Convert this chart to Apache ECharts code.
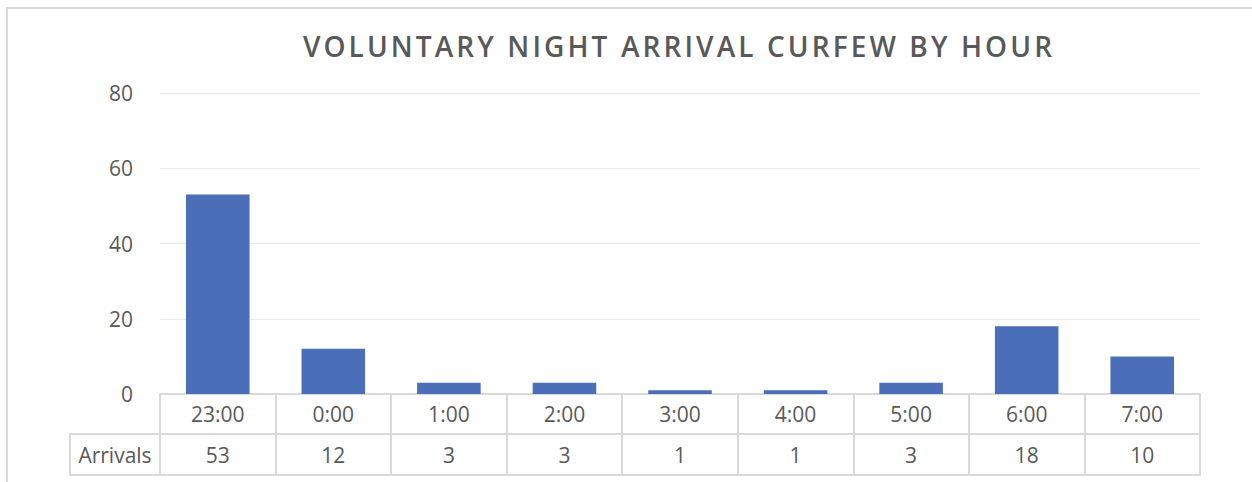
<!DOCTYPE html>
<html><head><meta charset="utf-8">
<script src="https://cdn.jsdelivr.net/npm/echarts@6/dist/echarts.min.js"></script>
<style>html,body{margin:0;padding:0;background:#fff}#c{width:1252px;height:482px}
#c svg text[style*="28px"]{letter-spacing:3.1px}</style>
</head><body><div id="c"></div>
<script>
const titleText = 'VOLUNTARY NIGHT ARRIVAL CURFEW BY HOUR';
const seriesName = 'Arrivals';
const categories = ['23:00','0:00','1:00','2:00','3:00','4:00','5:00','6:00','7:00'];
const arrivals = [53,12,3,3,1,1,3,18,10];
const yTicks = {min:0, max:80, interval:20};

const FONT = '"Open Sans","Noto Sans",sans-serif';
const TXT = '#595959';
const LINE = '#d9d9d9';
const FS = 21;
const chart = echarts.init(document.getElementById('c'), null, {renderer:'svg'});
const gridL = 160, gridR = 52, gridT = 93, gridB = 88;
chart.setOption({
  animation:false,
  title:{text:titleText, left:674, textAlign:'center', top:27,
    textStyle:{fontFamily:FONT, fontSize:28, fontWeight:600, color:TXT}},
  grid:{left:gridL, right:gridR, top:gridT, bottom:gridB},
  xAxis:[
    {type:'category', data:categories, position:'bottom',
      axisLine:{show:true, lineStyle:{color:LINE, width:2}},
      axisTick:{show:true, length:81, alignWithLabel:false, lineStyle:{color:LINE, width:2}},
      axisLabel:{fontFamily:FONT, fontSize:FS, color:TXT, margin:9}},
    {type:'category', data:arrivals.map(String), position:'bottom', offset:40,
      axisLine:{show:true, lineStyle:{color:LINE, width:2}},
      axisTick:{show:false},
      axisLabel:{fontFamily:FONT, fontSize:FS, color:TXT, margin:10}},
    {type:'category', data:categories, position:'bottom', offset:81,
      axisLine:{show:true, lineStyle:{color:LINE, width:2}},
      axisTick:{show:false}, axisLabel:{show:false}}
  ],
  yAxis:{type:'value', min:yTicks.min, max:yTicks.max, interval:yTicks.interval,
    axisLine:{show:false}, axisTick:{show:false},
    splitLine:{lineStyle:{color:'#ececec', width:1}},
    axisLabel:{fontFamily:FONT, fontSize:FS, color:TXT, margin:27}},
  series:[{name:seriesName, type:'bar', data:arrivals, xAxisIndex:0,
    barCategoryGap:'45%', itemStyle:{color:'#4a6eb8'}}],
  graphic:[
    {type:'rect', shape:{x:7, y:8, width:1260, height:500}, style:{fill:'none', stroke:LINE, lineWidth:2}, z:-1},
    {type:'rect', shape:{x:70, y:434, width:90, height:41}, style:{fill:'none', stroke:LINE, lineWidth:2}},
    {type:'text', x:115, y:455, style:{text:seriesName, fontFamily:FONT, fontSize:FS, fill:TXT, align:'center', verticalAlign:'middle'}}
  ]
});
</script></body></html>
